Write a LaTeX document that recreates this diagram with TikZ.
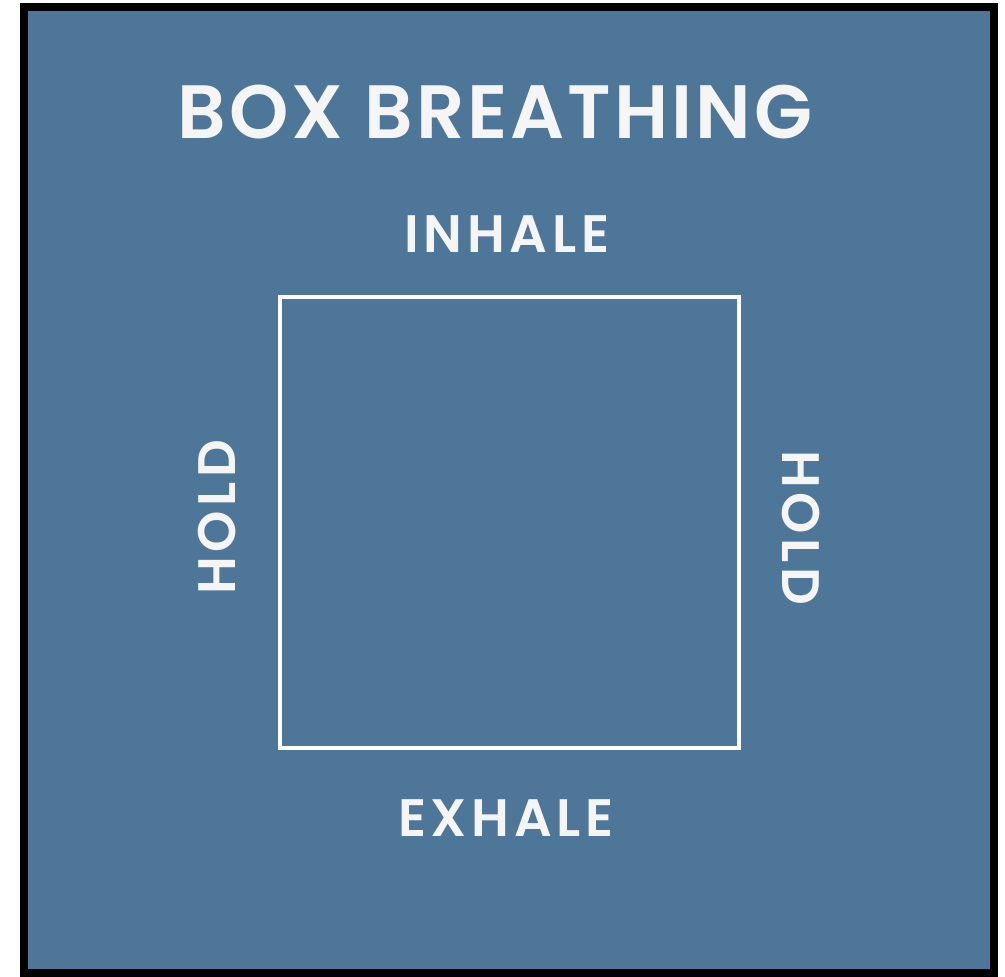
\documentclass[tikz,border=0pt]{standalone}
\usepackage{fontspec}
\setmainfont{Poppins}
\newfontfamily\titlefont{Poppins SemiBold}[LetterSpace=4]
\newfontfamily\stepfont{Poppins SemiBold}[LetterSpace=9]
\usetikzlibrary{positioning}
\definecolor{steel}{RGB}{78,118,153}
\tikzset{
    boxtext/.style={text=white!96!black, font=\stepfont\fontsize{30}{30}\selectfont}, % white caps on the blue
}

\begin{document}
\begin{tikzpicture}[x=0.02cm, y=-0.02cm]
        \useasboundingbox (0,0) rectangle (1005,977);
        % Frame
        \draw[fill=steel, line width=8*0.02cm] (24,7) rectangle (994,973);

        % The box
        \node (box) [draw=white, line width=4*0.02cm, minimum width=459*0.02cm,
              minimum height=451*0.02cm] at (509.5,522.5) {};

        % Texts
        \node (title) [boxtext, font=\titlefont\fontsize{43}{43}\selectfont] at (495,112) {BOX BREATHING};
        \node (inhale) [boxtext] at (507,234) {INHALE};
        \node (exhale) [boxtext] at (506,818) {EXHALE};
        \node (holdl) [boxtext, rotate=90] at (217,517) {HOLD};
        \node (holdr) [boxtext, rotate=-90] at (801,528) {HOLD};
    \end{tikzpicture}
\end{document}
